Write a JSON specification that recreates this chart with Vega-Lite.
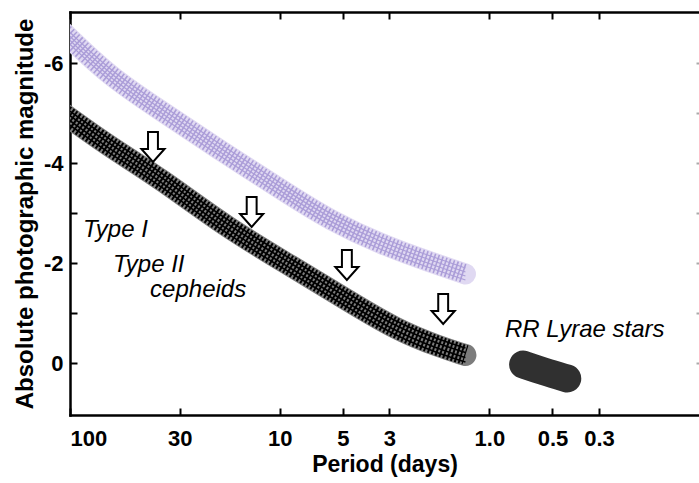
{
  "$schema": "https://vega.github.io/schema/vega-lite/v6.json",
  "width": 629,
  "height": 403,
  "autosize": {"type": "none"},
  "padding": {"left": 70, "top": 12, "right": 0, "bottom": 68},
  "background": "white",
  "config": {
    "view": {"stroke": null},
    "axis": {
      "grid": false,
      "domainColor": "black",
      "domainWidth": 2.5,
      "domainCap": "square",
      "tickColor": "black",
      "tickWidth": 2,
      "labelFont": "Liberation Sans",
      "labelFontSize": 22,
      "labelFontWeight": "bold",
      "labelColor": "black",
      "labelOverlap": false,
      "titleFont": "Liberation Sans",
      "titleFontSize": 23,
      "titleFontWeight": "bold",
      "titleColor": "black"
    }
  },
  "datasets": {
    "typeI": [
      {"period": 110, "mag": -6.66},
      {"period": 64.5, "mag": -5.72},
      {"period": 37.2, "mag": -5.06},
      {"period": 17.8, "mag": -4.16},
      {"period": 8.64, "mag": -3.32},
      {"period": 5.76, "mag": -2.86},
      {"period": 3.32, "mag": -2.38},
      {"period": 1.92, "mag": -2.02},
      {"period": 1.3, "mag": -1.78}
    ],
    "typeII": [
      {"period": 110, "mag": -5.02},
      {"period": 64.5, "mag": -4.32},
      {"period": 37.2, "mag": -3.7},
      {"period": 17.8, "mag": -2.7},
      {"period": 8.64, "mag": -1.92},
      {"period": 4.78, "mag": -1.26},
      {"period": 2.76, "mag": -0.66},
      {"period": 1.72, "mag": -0.32},
      {"period": 1.3, "mag": -0.16}
    ],
    "rrlyrae": [
      {"period": 0.69, "mag": 0.03},
      {"period": 0.55, "mag": 0.17},
      {"period": 0.425, "mag": 0.31}
    ],
    "arrows": [
      {"period": 40.2, "mag": -4.32},
      {"period": 13.6, "mag": -3.02},
      {"period": 4.78, "mag": -1.96},
      {"period": 1.66, "mag": -1.08}
    ],
    "labels": [
      {"period": 86.7, "mag": -2.52, "text": "Type I"},
      {"period": 62.4, "mag": -1.82, "text": "Type II"},
      {"period": 41.5, "mag": -1.32, "text": "cepheids"}
    ],
    "rrlabel": [
      {"period": 0.842, "mag": -0.52, "text": "RR Lyrae stars"}
    ]
  },
  "layer": [
    {
      "data": {"name": "typeI"},
      "mark": {"type": "line", "color": "#e0d9f2", "strokeWidth": 21, "strokeCap": "round", "interpolate": "basis", "clip": true},
      "encoding": {
        "x": {"field": "period", "type": "quantitative",
          "scale": {"type": "log", "domain": [0.1, 100], "reverse": true},
          "axis": {"orient": "bottom", "title": "Period (days)", "values": [100, 30, 10, 5, 3, 1, 0.5, 0.3],
            "labelExpr": "datum.value == 1 ? '1.0' : '' + datum.value",
            "tickSize": -7, "labelPadding": 20, "labelFlush": true, "titlePadding": 4}},
        "y": {"field": "mag", "type": "quantitative",
          "scale": {"domain": [-7.02, 1.04], "reverse": true, "nice": false, "zero": false},
          "axis": {"orient": "left", "title": "Absolute photographic magnitude", "values": [-6, -5, -4, -3, -2, -1, 0],
            "labelExpr": "datum.value % 2 == 0 ? '' + datum.value : ''",
            "tickSize": -7, "labelPadding": 14, "titlePadding": 6, "titleFontSize": 24}}
      }
    },
    {
      "data": {"name": "typeII"},
      "mark": {"type": "line", "color": "#7c7c7c", "strokeWidth": 22, "strokeCap": "round", "interpolate": "basis", "clip": true},
      "encoding": {
        "x": {"field": "period", "type": "quantitative",
          "scale": {"type": "log", "domain": [0.1, 100], "reverse": true},
          "axis": {"orient": "top", "title": null, "values": [100, 30, 10, 5, 3, 1, 0.5, 0.3], "labels": false, "tickSize": -7}},
        "y": {"field": "mag", "type": "quantitative",
          "scale": {"domain": [-7.02, 1.04], "reverse": true, "nice": false, "zero": false},
          "axis": {"orient": "right", "title": null, "values": [-6, -5, -4, -3, -2, -1, 0], "labels": false, "domain": false, "tickSize": -3, "tickColor": "#aaaaaa"}}
      }
    },
    {
      "data": {"name": "typeI"},
      "mark": {"type": "line", "color": "#ab9dd8", "strokeWidth": 19, "strokeCap": "butt", "strokeDash": [1.6, 2.4], "interpolate": "basis", "clip": true},
      "encoding": {
        "x": {"field": "period", "type": "quantitative", "scale": {"type": "log", "domain": [0.1, 100], "reverse": true}, "axis": null},
        "y": {"field": "mag", "type": "quantitative", "scale": {"domain": [-7.02, 1.04], "reverse": true, "nice": false, "zero": false}, "axis": null}
      }
    },
    {
      "data": {"name": "typeI"},
      "mark": {"type": "line", "color": "#ab9dd8", "strokeWidth": 1.3, "yOffset": -6, "interpolate": "basis", "clip": true},
      "encoding": {
        "x": {"field": "period", "type": "quantitative", "scale": {"type": "log", "domain": [0.1, 100], "reverse": true}, "axis": null},
        "y": {"field": "mag", "type": "quantitative", "scale": {"domain": [-7.02, 1.04], "reverse": true, "nice": false, "zero": false}, "axis": null}
      }
    },
    {
      "data": {"name": "typeI"},
      "mark": {"type": "line", "color": "#ab9dd8", "strokeWidth": 1.3, "yOffset": -2, "interpolate": "basis", "clip": true},
      "encoding": {
        "x": {"field": "period", "type": "quantitative", "scale": {"type": "log", "domain": [0.1, 100], "reverse": true}, "axis": null},
        "y": {"field": "mag", "type": "quantitative", "scale": {"domain": [-7.02, 1.04], "reverse": true, "nice": false, "zero": false}, "axis": null}
      }
    },
    {
      "data": {"name": "typeI"},
      "mark": {"type": "line", "color": "#ab9dd8", "strokeWidth": 1.3, "yOffset": 2, "interpolate": "basis", "clip": true},
      "encoding": {
        "x": {"field": "period", "type": "quantitative", "scale": {"type": "log", "domain": [0.1, 100], "reverse": true}, "axis": null},
        "y": {"field": "mag", "type": "quantitative", "scale": {"domain": [-7.02, 1.04], "reverse": true, "nice": false, "zero": false}, "axis": null}
      }
    },
    {
      "data": {"name": "typeI"},
      "mark": {"type": "line", "color": "#ab9dd8", "strokeWidth": 1.3, "yOffset": 6, "interpolate": "basis", "clip": true},
      "encoding": {
        "x": {"field": "period", "type": "quantitative", "scale": {"type": "log", "domain": [0.1, 100], "reverse": true}, "axis": null},
        "y": {"field": "mag", "type": "quantitative", "scale": {"domain": [-7.02, 1.04], "reverse": true, "nice": false, "zero": false}, "axis": null}
      }
    },
    {
      "data": {"name": "typeII"},
      "mark": {"type": "line", "color": "#000000", "strokeWidth": 20, "strokeCap": "butt", "strokeDash": [2, 2], "interpolate": "basis", "clip": true},
      "encoding": {
        "x": {"field": "period", "type": "quantitative", "scale": {"type": "log", "domain": [0.1, 100], "reverse": true}, "axis": null},
        "y": {"field": "mag", "type": "quantitative", "scale": {"domain": [-7.02, 1.04], "reverse": true, "nice": false, "zero": false}, "axis": null}
      }
    },
    {
      "data": {"name": "typeII"},
      "mark": {"type": "line", "color": "#000000", "strokeWidth": 1.6, "yOffset": -7, "interpolate": "basis", "clip": true},
      "encoding": {
        "x": {"field": "period", "type": "quantitative", "scale": {"type": "log", "domain": [0.1, 100], "reverse": true}, "axis": null},
        "y": {"field": "mag", "type": "quantitative", "scale": {"domain": [-7.02, 1.04], "reverse": true, "nice": false, "zero": false}, "axis": null}
      }
    },
    {
      "data": {"name": "typeII"},
      "mark": {"type": "line", "color": "#000000", "strokeWidth": 1.6, "yOffset": -2.5, "interpolate": "basis", "clip": true},
      "encoding": {
        "x": {"field": "period", "type": "quantitative", "scale": {"type": "log", "domain": [0.1, 100], "reverse": true}, "axis": null},
        "y": {"field": "mag", "type": "quantitative", "scale": {"domain": [-7.02, 1.04], "reverse": true, "nice": false, "zero": false}, "axis": null}
      }
    },
    {
      "data": {"name": "typeII"},
      "mark": {"type": "line", "color": "#000000", "strokeWidth": 1.6, "yOffset": 2.5, "interpolate": "basis", "clip": true},
      "encoding": {
        "x": {"field": "period", "type": "quantitative", "scale": {"type": "log", "domain": [0.1, 100], "reverse": true}, "axis": null},
        "y": {"field": "mag", "type": "quantitative", "scale": {"domain": [-7.02, 1.04], "reverse": true, "nice": false, "zero": false}, "axis": null}
      }
    },
    {
      "data": {"name": "typeII"},
      "mark": {"type": "line", "color": "#000000", "strokeWidth": 1.6, "yOffset": 7, "interpolate": "basis", "clip": true},
      "encoding": {
        "x": {"field": "period", "type": "quantitative", "scale": {"type": "log", "domain": [0.1, 100], "reverse": true}, "axis": null},
        "y": {"field": "mag", "type": "quantitative", "scale": {"domain": [-7.02, 1.04], "reverse": true, "nice": false, "zero": false}, "axis": null}
      }
    },
    {
      "data": {"name": "rrlyrae"},
      "mark": {"type": "line", "color": "#303030", "strokeWidth": 28, "strokeCap": "round", "interpolate": "basis"},
      "encoding": {
        "x": {"field": "period", "type": "quantitative", "scale": {"type": "log", "domain": [0.1, 100], "reverse": true}, "axis": null},
        "y": {"field": "mag", "type": "quantitative", "scale": {"domain": [-7.02, 1.04], "reverse": true, "nice": false, "zero": false}, "axis": null}
      }
    },
    {
      "data": {"name": "arrows"},
      "mark": {"type": "point", "shape": "M-0.33,-1L0.33,-1L0.33,0.13L0.77,0.13L0,1L-0.77,0.13L-0.33,0.13Z", "size": 900, "filled": true, "fill": "white", "stroke": "black", "strokeWidth": 2, "opacity": 1},
      "encoding": {
        "x": {"field": "period", "type": "quantitative", "scale": {"type": "log", "domain": [0.1, 100], "reverse": true}, "axis": null},
        "y": {"field": "mag", "type": "quantitative", "scale": {"domain": [-7.02, 1.04], "reverse": true, "nice": false, "zero": false}, "axis": null}
      }
    },
    {
      "data": {"name": "labels"},
      "mark": {"type": "text", "align": "left", "baseline": "alphabetic", "font": "Liberation Sans", "fontStyle": "italic", "fontSize": 24, "color": "black"},
      "encoding": {
        "x": {"field": "period", "type": "quantitative", "scale": {"type": "log", "domain": [0.1, 100], "reverse": true}, "axis": null},
        "y": {"field": "mag", "type": "quantitative", "scale": {"domain": [-7.02, 1.04], "reverse": true, "nice": false, "zero": false}, "axis": null},
        "text": {"field": "text"}
      }
    },
    {
      "data": {"name": "rrlabel"},
      "mark": {"type": "text", "align": "left", "baseline": "alphabetic", "font": "Liberation Sans", "fontStyle": "italic", "fontSize": 24, "color": "black"},
      "encoding": {
        "x": {"field": "period", "type": "quantitative", "scale": {"type": "log", "domain": [0.1, 100], "reverse": true}, "axis": null},
        "y": {"field": "mag", "type": "quantitative", "scale": {"domain": [-7.02, 1.04], "reverse": true, "nice": false, "zero": false}, "axis": null},
        "text": {"field": "text"}
      }
    }
  ],
  "resolve": {"axis": {"x": "independent", "y": "independent"}}
}
